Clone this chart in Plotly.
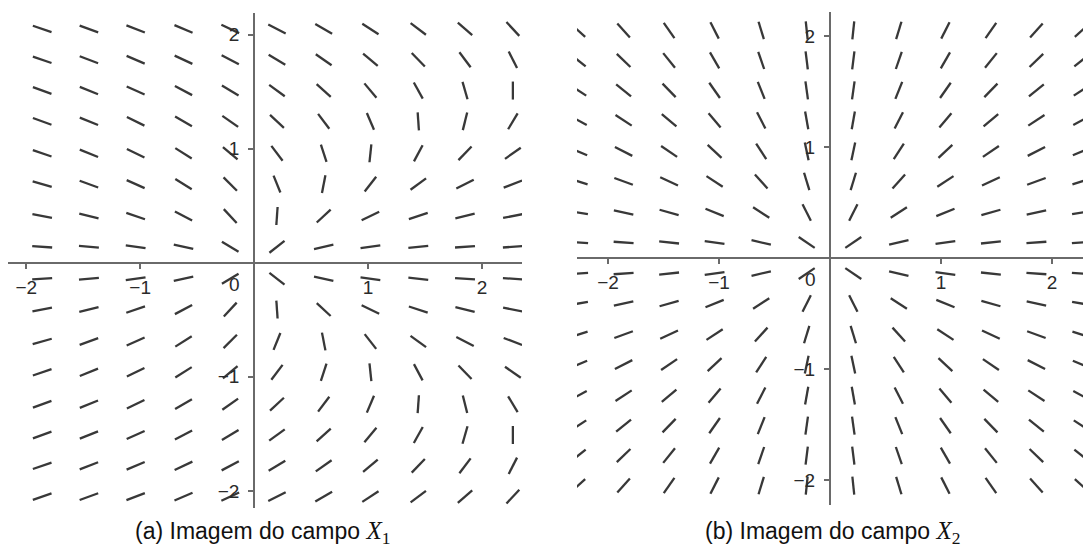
import numpy as np
import plotly.graph_objects as go

# colunas / linhas da grade de segmentos
x_cols_a = [-1.86, -1.45, -1.04, -0.62, -0.21, 0.20, 0.61, 1.02, 1.44, 1.85, 2.27]
x_cols_b = [-2.27, -1.86, -1.45, -1.04, -0.62, -0.21, 0.21, 0.62, 1.04, 1.45, 1.86, 2.27]
y_rows = [2.05, 1.78, 1.51, 1.24, 0.96, 0.69, 0.41, 0.14,
          -0.14, -0.41, -0.69, -0.96, -1.24, -1.51, -1.78, -2.05]

# inclinação de cada segmento em graus (linha a linha, de cima para baixo)
angles_a = [
    [-19, -20, -21, -23, -25, -27, -30, -33, -37, -41, -47],
    [-19, -21, -23, -25, -28, -31, -35, -40, -46, -53, -63],
    [-20, -22, -24, -28, -31, -36, -42, -50, -61, -74, 90],
    [-20, -22, -26, -30, -35, -43, -53, -67, -86, 76, 59],
    [-19, -22, -26, -32, -40, -53, -72, 84, 62, 46, 35],
    [-16, -20, -24, -32, -45, -68, 79, 52, 36, 27, 21],
    [-11, -14, -19, -28, -47, 86, 43, 26, 18, 14, 11],
    [-4, -5, -8, -12, -31, 38, 13, 8, 6, 4, 4],
    [4, 5, 8, 12, 31, -38, -13, -8, -6, -4, -4],
    [11, 14, 19, 28, 47, -86, -43, -26, -18, -14, -11],
    [16, 20, 24, 32, 45, 68, -79, -52, -36, -27, -21],
    [19, 22, 26, 32, 40, 53, 72, -84, -62, -46, -35],
    [20, 22, 26, 30, 35, 43, 53, 67, 86, -76, -59],
    [20, 22, 24, 28, 31, 36, 42, 50, 61, 74, 90],
    [19, 21, 23, 25, 28, 31, 35, 40, 46, 53, 63],
    [19, 20, 21, 23, 25, 27, 30, 33, 37, 41, 47],
]

angles_b = [
    [-42, -48, -55, -63, -73, -84, 84, 73, 63, 55, 48, 42],
    [-38, -44, -51, -60, -71, -83, 83, 71, 60, 51, 44, 38],
    [-33, -39, -46, -55, -68, -82, 82, 68, 55, 46, 39, 33],
    [-28, -33, -40, -50, -63, -80, 80, 63, 50, 40, 33, 28],
    [-23, -27, -34, -43, -57, -78, 78, 57, 43, 34, 27, 23],
    [-17, -20, -25, -33, -48, -73, 73, 48, 33, 25, 20, 17],
    [-10, -12, -16, -22, -33, -63, 63, 33, 22, 16, 12, 10],
    [-4, -4, -6, -8, -13, -34, 34, 13, 8, 6, 4, 4],
    [4, 4, 6, 8, 13, 34, -34, -13, -8, -6, -4, -4],
    [10, 12, 16, 22, 33, 63, -63, -33, -22, -16, -12, -10],
    [17, 20, 25, 33, 48, 73, -73, -48, -33, -25, -20, -17],
    [23, 27, 34, 43, 57, 78, -78, -57, -43, -34, -27, -23],
    [28, 33, 40, 50, 63, 80, -80, -63, -50, -40, -33, -28],
    [33, 39, 46, 55, 68, 82, -82, -68, -55, -46, -39, -33],
    [38, 44, 51, 60, 71, 83, -83, -71, -60, -51, -44, -38],
    [42, 48, 55, 63, 73, 84, -84, -73, -63, -55, -48, -42],
]

tick_vals = [-2, -1, 1, 2]
captions = ["(a) Imagem do campo", "(b) Imagem do campo"]
field_names = ["1", "2"]

W, H = 1083, 548
SEG_COLOR = "#383838"
AXIS_COLOR = "#6a6a6a"
LABEL_FONT = dict(family="Liberation Sans", size=19, color="#2a2a2a")


def segment_coords(xc, yr, ang, scale, a_px=10, b_px=9):
    # segmentos centrados nos pontos da grade, comprimento em pixels
    xs, ys = [], []
    for j, y in enumerate(yr):
        for i, x in enumerate(xc):
            t = np.radians(ang[j][i])
            c, s = np.cos(t), np.sin(t)
            r = a_px * b_px / np.hypot(b_px * c, a_px * s)
            dx, dy = r * c / scale, r * s / scale
            xs += [x - dx, x + dx, None]
            ys += [y - dy, y + dy, None]
    return xs, ys


fig = go.Figure()

xa, ya = segment_coords(x_cols_a, y_rows, angles_a, 114)
fig.add_trace(go.Scatter(x=xa, y=ya, mode="lines", xaxis="x", yaxis="y",
                         line=dict(color=SEG_COLOR, width=2.3), hoverinfo="skip"))
xb, yb = segment_coords(x_cols_b, y_rows, angles_b, 111)
fig.add_trace(go.Scatter(x=xb, y=yb, mode="lines", xaxis="x2", yaxis="y2",
                         line=dict(color=SEG_COLOR, width=2.3), hoverinfo="skip"))

common = dict(
    showgrid=False, zeroline=False, showline=True,
    linecolor=AXIS_COLOR, linewidth=2.2,
    ticks="outside", ticklen=5, tickwidth=1.5, tickcolor=AXIS_COLOR,
    tickvals=tick_vals, tickfont=LABEL_FONT,
    anchor="free", fixedrange=True, automargin=False,
)

fig.update_layout(
    width=W, height=H,
    margin=dict(l=0, r=0, t=0, b=0),
    paper_bgcolor="white", plot_bgcolor="white",
    showlegend=False,
    xaxis=dict(common, domain=[8 / W, 522 / W], range=[-2.16, 2.35],
               position=1 - 262.7 / H, side="bottom", ticklabelstandoff=2),
    yaxis=dict(common, domain=[1 - 508 / H, 1 - 13 / H], range=[-2.15, 2.19],
               position=254.2 / W, side="left", ticklabelstandoff=5),
    xaxis2=dict(common, domain=[577 / W, 1], range=[-2.28, 2.28],
                position=1 - 258 / H, side="bottom", ticklabelstandoff=2),
    yaxis2=dict(common, domain=[1 - 505 / H, 1 - 12 / H], range=[-2.225, 2.216],
                position=830 / W, side="left", ticklabelstandoff=5),
)

# rótulo "0" no canto da origem, como no GeoGebra
for xr, yr_ in [("x", "y"), ("x2", "y2")]:
    fig.add_annotation(x=0, y=0, xref=xr, yref=yr_, text="0", showarrow=False,
                       xanchor="right", yanchor="top", xshift=-12, yshift=-9,
                       font=LABEL_FONT)

# legendas das figuras
for cx, cap, name in zip([262, 832], captions, field_names):
    fig.add_annotation(
        x=cx / W, y=1 - 532 / H, xref="paper", yref="paper", showarrow=False,
        xanchor="center", yanchor="middle",
        text=f"{cap} <span style='font-family:Liberation Serif;font-size:25px'><i>X</i><sub>{name}</sub></span>",
        font=dict(family="Liberation Sans", size=23, color="#111111"),
    )

# sem a margem padrão do <body>, para a figura ocupar a janela inteira
fig.write_html("out.html", config={"displayModeBar": False},
               post_script="document.body.style.margin='0';")
